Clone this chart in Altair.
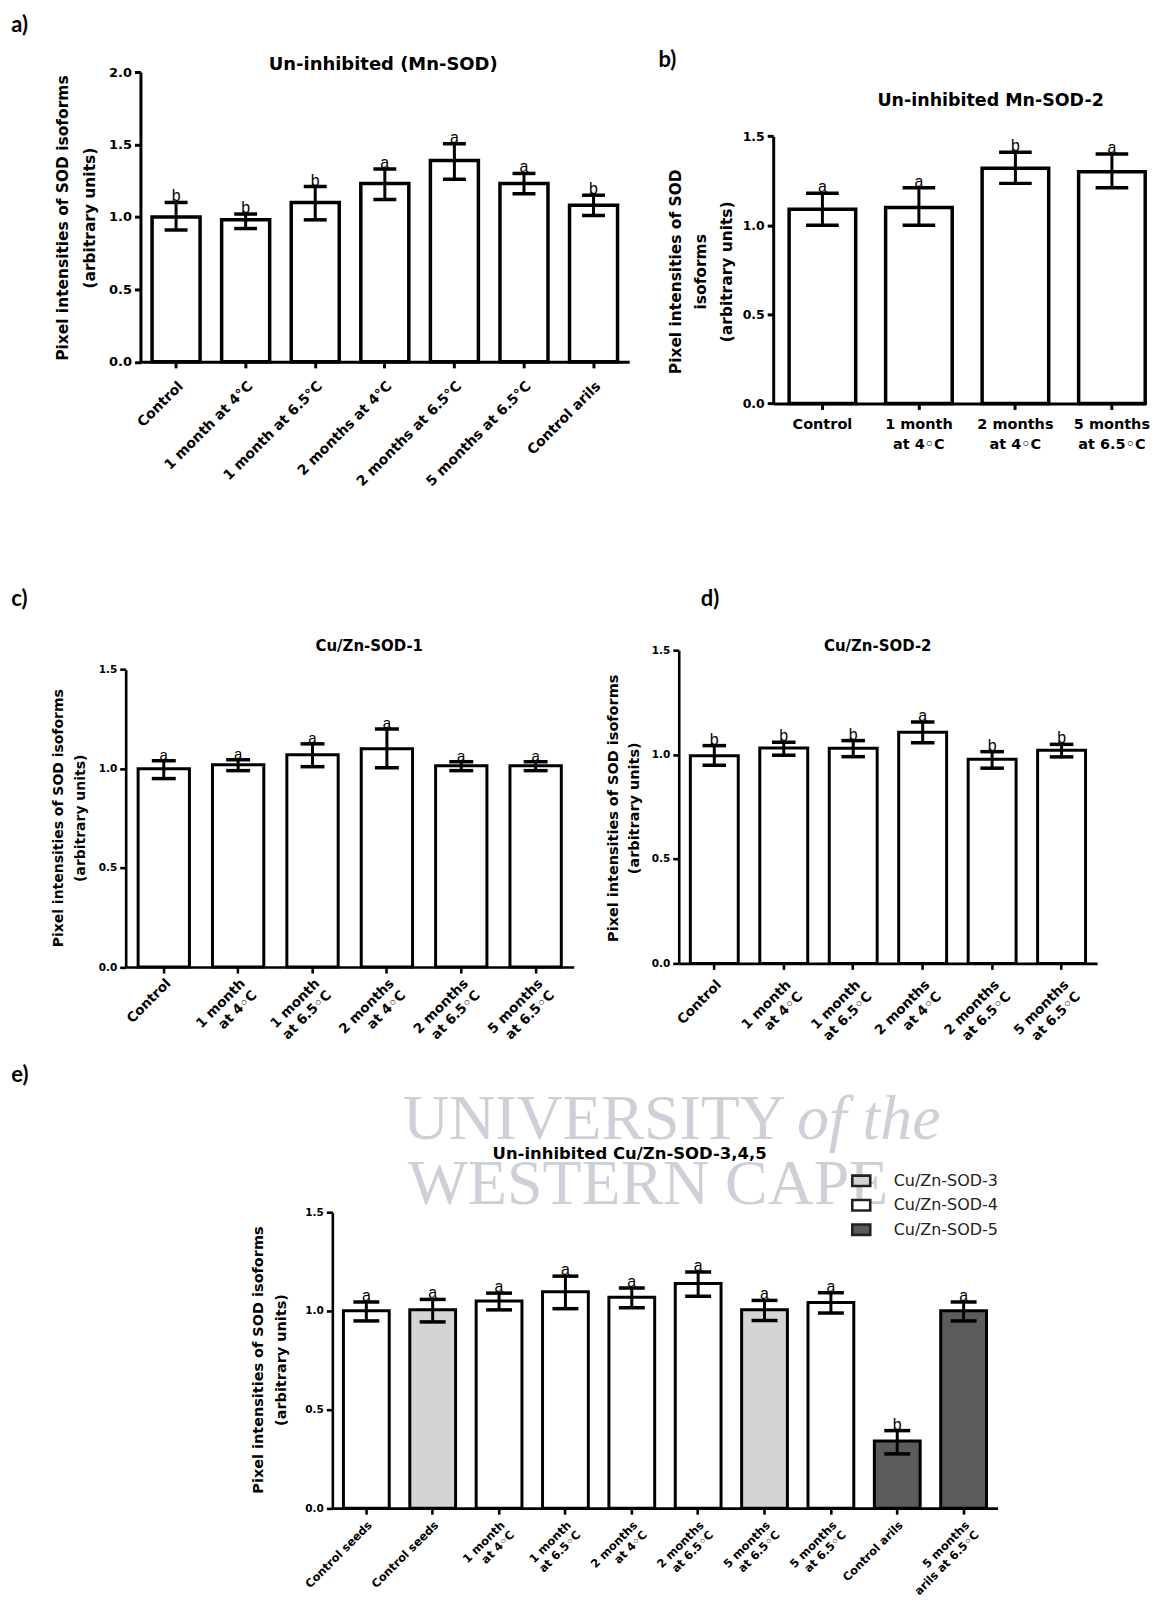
import json
import altair as alt
import pandas as pd

# ---------------- data ----------------
A_LABELS = ["Control", "1 month at 4°C", "1 month at 6.5°C", "2 months at 4°C",
            "2 months at 6.5°C", "5 months at 6.5°C", "Control arils"]
A_MEAN = [1.00, 0.98, 1.10, 1.23, 1.39, 1.23, 1.08]
A_LO = [0.91, 0.92, 0.98, 1.12, 1.26, 1.16, 1.01]
A_HI = [1.10, 1.02, 1.21, 1.33, 1.505, 1.30, 1.15]
A_SIG = ["b", "b", "b", "a", "a", "a", "b"]

B_LABELS = ["Control", "1 month\nat 4◦C", "2 months\nat 4◦C", "5 months\nat 6.5◦C"]
B_MEAN = [1.09, 1.10, 1.32, 1.30]
B_LO = [1.00, 1.00, 1.235, 1.21]
B_HI = [1.18, 1.21, 1.41, 1.40]
B_SIG = ["a", "a", "b", "a"]

C_LABELS = ["Control", "1 month\nat 4◦C", "1 month\nat 6.5◦C", "2 months\nat 4◦C",
            "2 months\nat 6.5◦C", "5 months\nat 6.5◦C"]
C_MEAN = [1.00, 1.02, 1.07, 1.10, 1.015, 1.015]
C_LO = [0.95, 0.99, 1.01, 1.005, 0.99, 0.99]
C_HI = [1.04, 1.045, 1.125, 1.20, 1.035, 1.035]
C_SIG = ["a", "a", "a", "a", "a", "a"]

D_LABELS = ["Control", "1 month\nat 4◦C", "1 month\nat 6.5◦C", "2 months\nat 4◦C",
            "2 months\nat 6.5◦C", "5 months\nat 6.5◦C"]
D_MEAN = [0.994, 1.032, 1.030, 1.107, 0.978, 1.021]
D_LO = [0.949, 0.997, 0.990, 1.057, 0.935, 0.989]
D_HI = [1.043, 1.059, 1.067, 1.156, 1.014, 1.049]
D_SIG = ["b", "b", "b", "a", "b", "b"]

E_LABELS = ["Control seeds", "Control seeds", "1 month\nat 4◦C", "1 month\nat 6.5◦C",
            "2 months\nat 4◦C", "2 months\nat 6.5◦C", "5 months\nat 6.5◦C",
            "5 months\nat 6.5◦C", "Control arils", "5 months\narils at 6.5◦C"]
E_ISO = ["Cu/Zn-SOD-4", "Cu/Zn-SOD-3", "Cu/Zn-SOD-4", "Cu/Zn-SOD-4", "Cu/Zn-SOD-4",
         "Cu/Zn-SOD-4", "Cu/Zn-SOD-3", "Cu/Zn-SOD-4", "Cu/Zn-SOD-5", "Cu/Zn-SOD-5"]
E_MEAN = [1.00, 1.006, 1.05, 1.097, 1.069, 1.139, 1.006, 1.043, 0.340, 1.00]
E_LO = [0.949, 0.944, 1.005, 1.011, 1.016, 1.074, 0.951, 0.989, 0.275, 0.949]
E_HI = [1.045, 1.058, 1.09, 1.176, 1.116, 1.197, 1.053, 1.092, 0.393, 1.045]
E_SIG = ["a", "a", "a", "a", "a", "a", "a", "a", "b", "a"]

ISO_DOMAIN = ["Cu/Zn-SOD-3", "Cu/Zn-SOD-4", "Cu/Zn-SOD-5"]
ISO_COLORS = ["#d4d4d4", "#ffffff", "#5b5b5b"]

YTITLE_2 = ["Pixel intensities of SOD isoforms", "(arbitrary units)"]
YTITLE_3 = ["Pixel intensities of SOD", "isoforms", "(arbitrary units)"]

FONT = "DejaVu Sans"
SIGFONT = "Liberation Sans"


def label_expr(labels):
    arr = json.dumps(labels, ensure_ascii=False)
    return f"split({arr}[toNumber(datum.value)], '\\n')"


def text_layer(text, x, y, **kw):
    d = pd.DataFrame({"t": [text]})
    return alt.Chart(d).mark_text(**kw).encode(
        text="t:N", x=alt.value(x), y=alt.value(y))


def panel(labels, mean, lo, hi, sig, c, iso=None, extra_back=None):
    n = len(labels)
    df = pd.DataFrame({"i": list(range(n)), "mean": mean, "lo": lo,
                       "hi": hi, "sig": sig})
    if iso is not None:
        df["iso"] = iso
    xs = dict(paddingInner=0.31, paddingOuter=c.get("po", 0.167))
    if "xrange" in c:
        xs["range"] = c["xrange"]
    if "align" in c:
        xs["align"] = c["align"]
    ys = dict(domain=c["ydomain"], nice=False)
    if "yrange" in c:
        ys["range"] = c["yrange"]

    xaxis = alt.Axis(
        title=None, labelExpr=label_expr(labels), labelAngle=c["langle"],
        labelAlign=c["lalign"], labelBaseline="top", labelFont=FONT,
        labelFontWeight="bold", labelFontSize=c["lfs"], labelColor="black",
        labelPadding=c["lpad"], labelLineHeight=c["llh"], labelLimit=400,
        labelOverlap=False, tickSize=6, tickWidth=c["dw"], tickColor="black",
        domainColor="black", domainWidth=c["dw"], grid=False)
    yaxis = alt.Axis(
        title=c["ytitle"], values=c["yticks"], format=".1f", labelFont=FONT,
        labelFontWeight="bold", labelFontSize=c["tfs"], labelColor="black",
        labelPadding=3, tickSize=6, tickWidth=c["dw"], tickColor="black",
        domainColor="black", domainWidth=c["dw"], grid=False,
        offset=c.get("yoff", 0), titleAngle=270, titleX=c["tx"], titleY=c["ty"],
        titleAlign="center", titleBaseline="top", titleFont=FONT,
        titleFontWeight="bold", titleFontSize=c["ytfs"], titleColor="black",
        titleLineHeight=c["ytlh"])

    xscale = alt.Scale(**xs)
    yscale = alt.Scale(**ys)
    X = alt.X("i:O", scale=xscale, axis=xaxis)

    def Y(field):
        return alt.Y(field, scale=yscale, axis=yaxis)

    base = alt.Chart(df)
    enc = dict(x=X, y=Y("mean:Q"))
    if iso is not None:
        enc["color"] = alt.Color(
            "iso:N", scale=alt.Scale(domain=ISO_DOMAIN, range=ISO_COLORS),
            legend=alt.Legend(
                orient="none", legendX=c["legx"], legendY=c["legy"], title=None,
                symbolType="M-1,-0.58H1V0.58H-1Z", symbolSize=324,
                symbolStrokeWidth=2.6, symbolStrokeColor="#222222",
                symbolOpacity=1, labelFont=FONT, labelFontSize=16,
                labelColor="#222222", labelOffset=22, rowPadding=3.5, padding=0))
        bars = base.mark_bar(stroke="black", strokeWidth=c["bsw"], opacity=1).encode(**enc)
    else:
        bars = base.mark_bar(fill="white", stroke="black",
                             strokeWidth=c["bsw"]).encode(**enc)

    err = base.mark_rule(color="black", strokeWidth=3).encode(
        x=X, y=Y("lo:Q"), y2="hi:Q")
    cap_hi = base.mark_tick(color="black", orient="horizontal", size=c["cap"],
                            thickness=3.5, opacity=1).encode(x=X, y=Y("hi:Q"))
    cap_lo = base.mark_tick(color="black", orient="horizontal", size=c["cap"],
                            thickness=3.5, opacity=1).encode(x=X, y=Y("lo:Q"))
    sig_t = base.mark_text(font=SIGFONT, fontSize=c["sfs"], baseline="alphabetic",
                           dy=-1, color="black").encode(
        x=X, y=Y("hi:Q"), text="sig:N")

    letter = text_layer(c["letter"], c["lx"], c["ly"], font="Lato", fontSize=22,
                        fontWeight="bold", align="left", baseline="alphabetic",
                        color="black")
    title = text_layer(c["title"], c["ttx"], c["tty"], font=FONT,
                       fontSize=c["titfs"], fontWeight="bold", align="center",
                       baseline="alphabetic", color="black")
    layers = []
    if extra_back:
        layers.extend(extra_back)
    layers += [bars, err, cap_hi, cap_lo, sig_t, letter, title]
    return alt.layer(*layers).properties(width=c["w"], height=c["h"])


WM = dict(font="Liberation Serif", fontSize=64, color="#cfcfd8",
          align="center", baseline="alphabetic")

cfg_a = dict(w=504.8, h=290.6, xrange=[14.8, 504.8], yoff=-14.8,
             ydomain=[0, 2], yticks=[0, 0.5, 1.0, 1.5, 2.0],
             langle=315, lalign="right", lfs=14, lpad=11, llh=16, dw=3,
             tfs=13, ytitle=YTITLE_2, tx=-85, ty=146, ytfs=15.5, ytlh=26.6,
             bsw=3.5, cap=23, sfs=16, letter="a)", lx=-114.8, ly=-40,
             title="Un-inhibited (Mn-SOD)", ttx=258.2, tty=-1.7, titfs=18)
cfg_b = dict(w=373, h=332.3, yrange=[332.3, 64.3], po=0.0825, align=1,
             ydomain=[0, 1.5], yticks=[0, 0.5, 1.0, 1.5],
             langle=0, lalign="center", lfs=14.5, lpad=8, llh=20, dw=3,
             tfs=12.5, ytitle=YTITLE_3, tx=-105, ty=199.8, ytfs=15.5, ytlh=25.5,
             bsw=3.5, cap=32.7, sfs=16, letter="b)", lx=-115, ly=-5.5,
             title="Un-inhibited Mn-SOD-2", ttx=218, tty=34.3, titfs=17.5)
cfg_c = dict(w=449.2, h=317.7, yrange=[317.7, 19.3],
             ydomain=[0, 1.5], yticks=[0, 0.5, 1.0, 1.5],
             langle=315, lalign="right", lfs=13.5, lpad=3, llh=16.5, dw=2.6,
             tfs=10.5, ytitle=YTITLE_2, tx=-74, ty=168, ytfs=14, ytlh=22,
             bsw=3, cap=24, sfs=15, letter="c)", lx=-114.8, ly=-44,
             title="Cu/Zn-SOD-1", ttx=244.2, tty=1, titfs=15)
cfg_d = dict(w=419.5, h=314,
             ydomain=[0, 1.5], yticks=[0, 0.5, 1.0, 1.5],
             langle=315, lalign="right", lfs=13.5, lpad=8, llh=16.5, dw=2.6,
             tfs=10.5, ytitle=YTITLE_2, tx=-72, ty=158, ytfs=14.5, ytlh=21,
             bsw=3, cap=23.6, sfs=16, letter="d)", lx=22.1, ly=-44,
             title="Cu/Zn-SOD-2", ttx=199.5, tty=1, titfs=15)
cfg_e = dict(w=874.2, h=296.7, xrange=[207.2, 874.2], yoff=-207.2,
             ydomain=[0, 1.5], yticks=[0, 0.5, 1.0, 1.5],
             langle=315, lalign="right", lfs=11.5, lpad=5, llh=13.5, dw=2.6,
             tfs=10.5, ytitle=YTITLE_2, tx=-81, ty=147.7, ytfs=14.5, ytlh=23,
             bsw=3, cap=26, sfs=16, letter="e)", lx=-114.8, ly=-131,
             title="Un-inhibited Cu/Zn-SOD-3,4,5", ttx=505.2, tty=-53.3, titfs=16.5,
             legx=727, legy=-42)

watermark = [
    text_layer("UNIVERSITY", 470, -73.3, **WM),
    text_layer("of the", 745, -73.3, fontStyle="italic", **WM),
    text_layer("WESTERN CAPE", 523.7, -8.3, **WM),
]

pa = panel(A_LABELS, A_MEAN, A_LO, A_HI, A_SIG, cfg_a)
pb = panel(B_LABELS, B_MEAN, B_LO, B_HI, B_SIG, cfg_b)
pc = panel(C_LABELS, C_MEAN, C_LO, C_HI, C_SIG, cfg_c)
pd_ = panel(D_LABELS, D_MEAN, D_LO, D_HI, D_SIG, cfg_d)
pe = panel(E_LABELS, E_MEAN, E_LO, E_HI, E_SIG, cfg_e, iso=E_ISO,
           extra_back=watermark)

row1 = alt.hconcat(pa, pb, spacing=144.2, bounds="flush")
row2 = alt.hconcat(pc, pd_, spacing=104.5, bounds="flush")
top = alt.vconcat(row1, row2, spacing=99.7)

chart = alt.vconcat(top, pe, spacing=14.2,
                    padding={"left": 3, "top": 4.1, "right": 0, "bottom": 0},
                    background="white"
                    ).resolve_legend(color="independent").configure_view(stroke=None)

chart.save("out.html", embed_options={"renderer": "svg", "actions": False})
